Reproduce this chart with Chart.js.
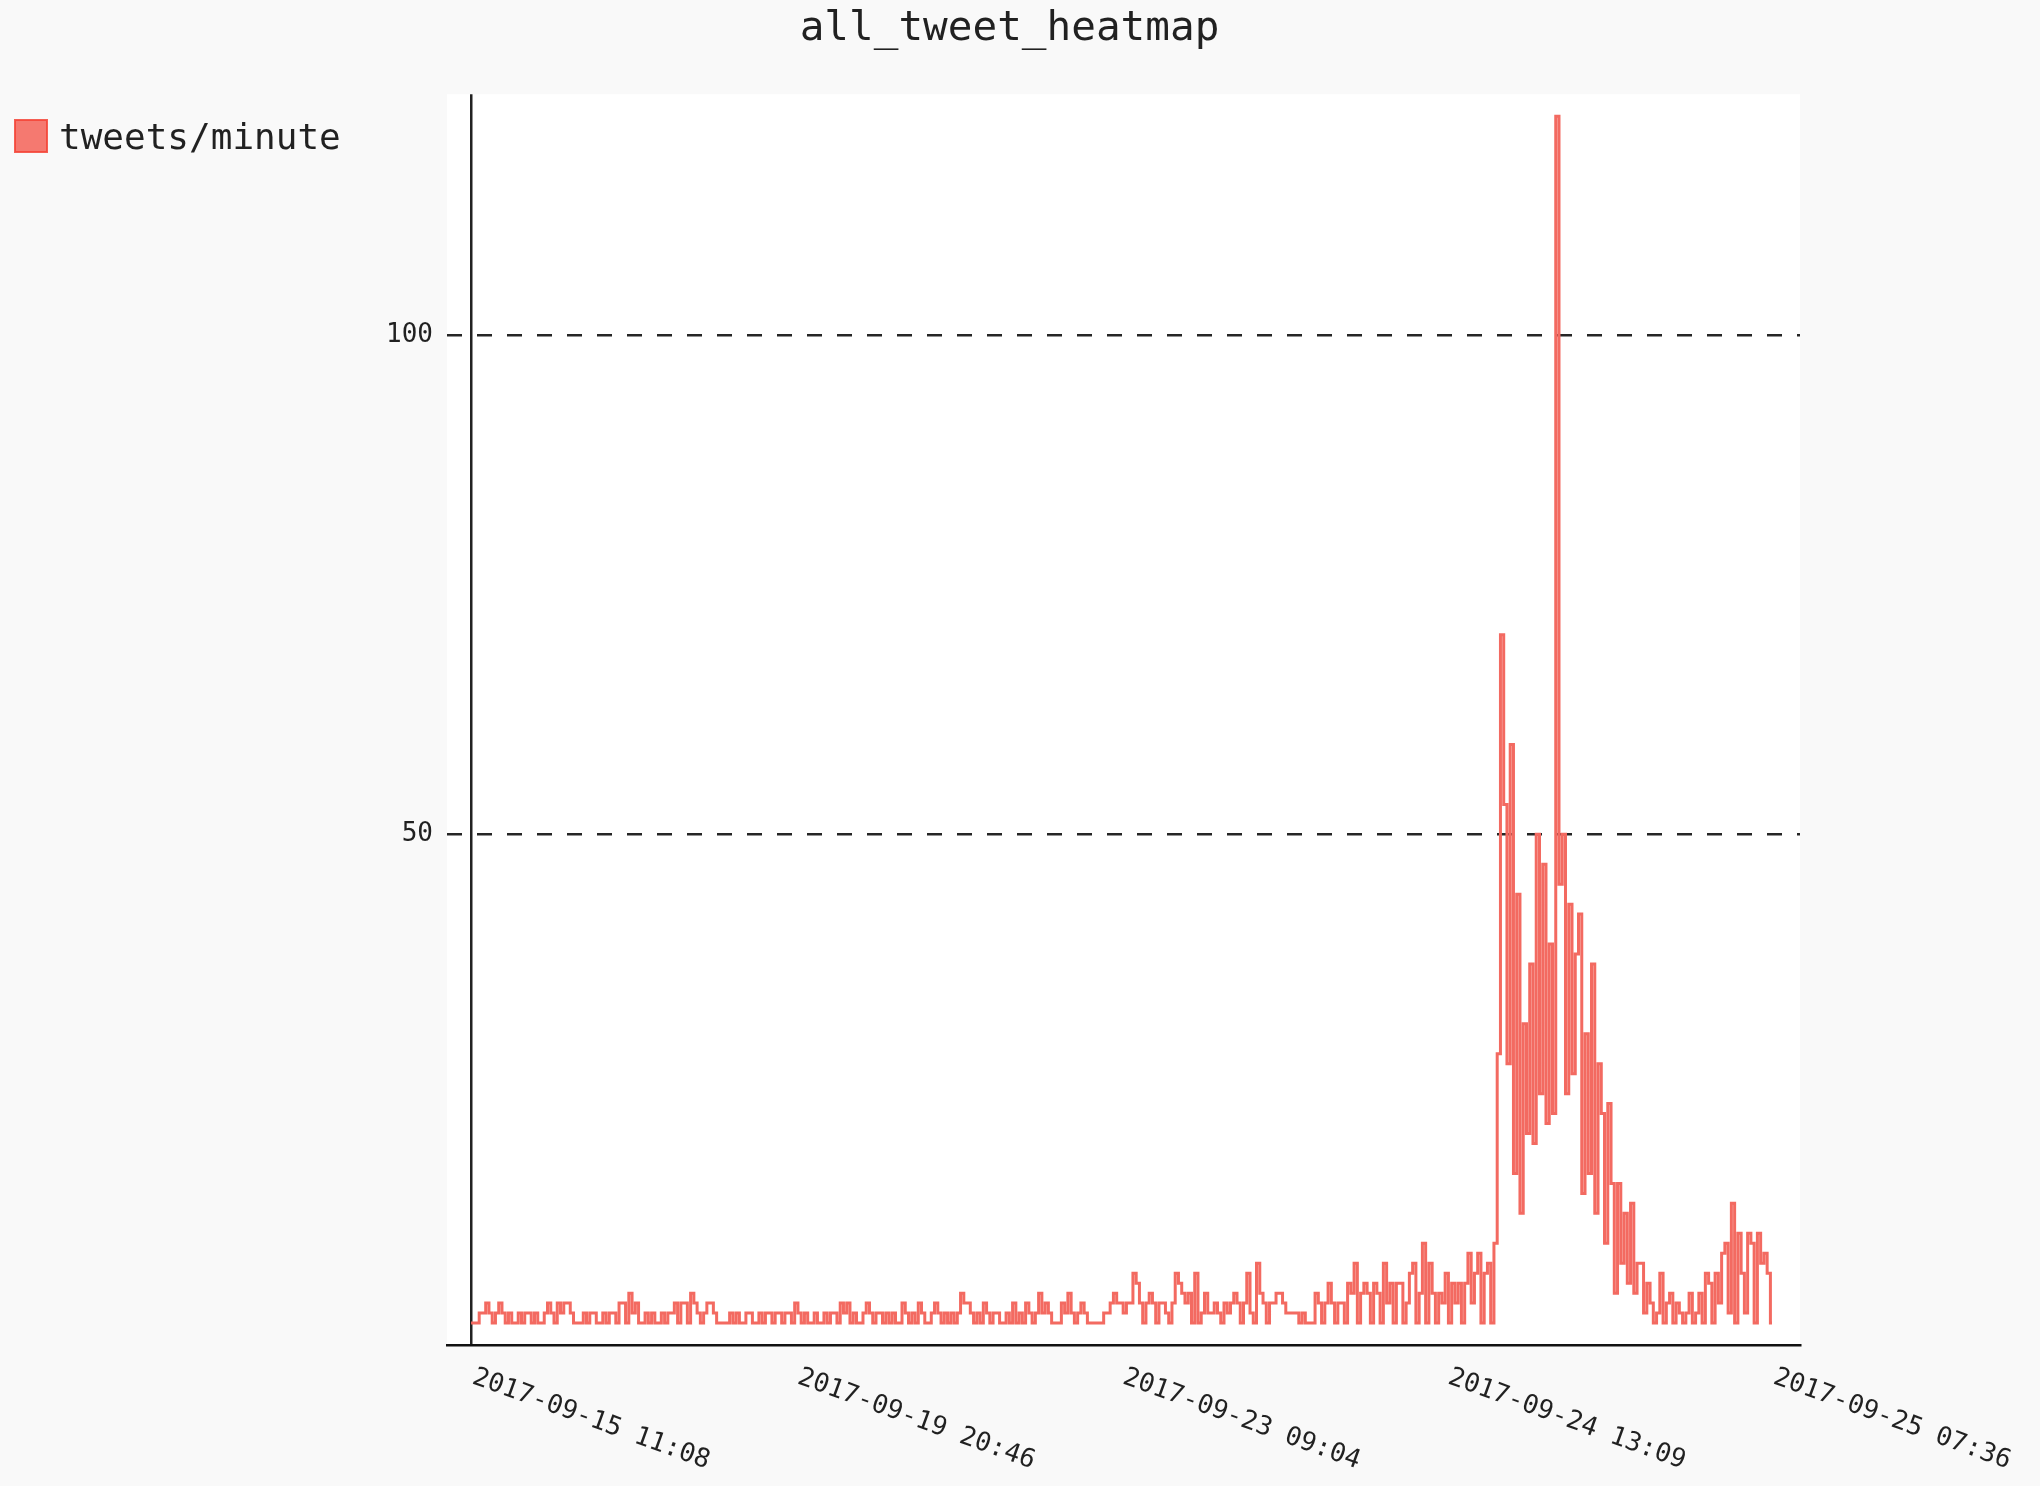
<!DOCTYPE html>
<html>
<head>
<meta charset="utf-8">
<title>all_tweet_heatmap</title>
<script src="https://cdn.jsdelivr.net/npm/chart.js"></script>
<style>
  body { margin: 0; background: #f9f9f9; }
  canvas { display: block; }
</style>
</head>
<body>
<canvas id="chart-tweets" width="2040" height="1486"></canvas>
<script>
const chartTitle = "all_tweet_heatmap";
const seriesLabel = "tweets/minute";

// x labels shown on the axis and the minute index they sit on
const xTickLabels = [
  "2017-09-15 11:08",
  "2017-09-19 20:46",
  "2017-09-23 09:04",
  "2017-09-24 13:09",
  "2017-09-25 07:36",
];
const xTickIndex = [0, 100, 200, 300, 400];
const yTicks = [50, 100];

// tweets per minute in chunks
const earlyTweets = [
  1, 1, 1, 2, 2, 3, 2, 1, 2, 3,
  2, 1, 2, 1, 1, 2, 1, 2, 2, 1,
  2, 1, 1, 2, 3, 2, 1, 3, 2, 3,
  3, 2, 1, 1, 1, 2, 1, 2, 2, 1,
  1, 2, 1, 2, 2, 1, 3, 3, 1, 4,
  2, 3, 1, 1, 2, 1, 2, 1, 1, 2,
  1, 2, 2, 3, 1, 3, 3, 1, 4, 3,
  2, 1, 2, 3, 3, 2, 1, 1, 1, 1,
  2, 1, 2, 1, 1, 2, 2, 1, 1, 2,
  1, 2, 2, 1, 2, 2, 1, 2, 2, 1,
];
const midTweets = [
  3, 2, 1, 2, 1, 1, 2, 1, 1, 2,
  1, 2, 2, 1, 3, 2, 3, 1, 2, 1,
  1, 2, 3, 2, 1, 2, 2, 1, 2, 1,
  2, 1, 1, 3, 2, 1, 2, 1, 3, 2,
  1, 1, 2, 3, 2, 1, 2, 1, 2, 1,
  2, 4, 3, 3, 2, 1, 2, 1, 3, 2,
  1, 2, 2, 1, 1, 2, 1, 3, 1, 2,
  1, 3, 2, 1, 2, 4, 2, 3, 2, 1,
  1, 1, 3, 2, 4, 2, 1, 2, 3, 2,
  1, 1, 1, 1, 1, 2, 2, 3, 4, 3,
];
const lateTweets = [
  3, 2, 3, 3, 6, 5, 3, 1, 3, 4,
  3, 1, 3, 3, 2, 1, 3, 6, 5, 4,
  3, 4, 1, 6, 1, 2, 4, 2, 2, 3,
  2, 1, 3, 2, 3, 4, 3, 1, 3, 6,
  2, 1, 7, 4, 3, 1, 3, 3, 4, 4,
  3, 2, 2, 2, 2, 1, 2, 1, 1, 1,
  4, 3, 1, 3, 5, 3, 1, 3, 3, 1,
  5, 4, 7, 1, 4, 5, 4, 1, 5, 4,
  1, 7, 3, 5, 1, 5, 5, 1, 3, 6,
  7, 1, 4, 9, 1, 7, 4, 1, 4, 3,
  6, 1, 5, 3, 5, 1, 5, 8, 3, 6,
  8, 1, 6, 7, 1, 9,
];
const burstTweets = [
  28, 70, 53, 27, 59, 16, 44, 12, 31, 20,
  37, 19, 50, 24, 47, 21, 39, 22, 122, 45,
  50, 24, 43, 26, 38, 42, 14, 30, 16, 37,
  12, 27, 22, 9, 23, 15, 4, 15, 7, 12,
  5, 13, 4, 7, 7,
];
const tailTweets = [
  2, 5, 3, 1, 2, 6, 1, 3, 4,
  1, 3, 2, 1, 2, 4, 1, 2, 4, 1,
  6, 5, 1, 6, 3, 8, 9, 2, 13, 1,
  10, 6, 2, 10, 9, 1, 10, 7, 8, 6,
  1,
];

const tweetsPerMinute = [
  ...earlyTweets,
  ...midTweets,
  ...lateTweets,
  ...burstTweets,
  ...tailTweets,
];

const monoFont = "'DejaVu Sans Mono', monospace";
const lineColor = "rgb(243, 106, 97)";
const textColor = "rgba(0, 0, 0, 0.87)";

const plotBackground = {
  id: "plotBackground",
  beforeDraw(chart) {
    const { ctx, chartArea } = chart;
    ctx.save();
    ctx.fillStyle = "#ffffff";
    ctx.fillRect(
      chartArea.left,
      chartArea.top,
      chartArea.right - chartArea.left,
      chartArea.bottom - chartArea.top
    );
    ctx.restore();
  },
};

// pygal style labels: start at the tick and slope down to the right
const slantedLabels = {
  id: "slantedLabels",
  afterDraw(chart) {
    const { ctx, chartArea } = chart;
    const xScale = chart.scales.x;
    ctx.save();
    ctx.font = "26px " + monoFont;
    ctx.fillStyle = textColor;
    ctx.textAlign = "left";
    ctx.textBaseline = "alphabetic";
    xTickLabels.forEach((label, i) => {
      const x = xScale.getPixelForValue(xTickIndex[i]);
      ctx.save();
      ctx.translate(x, chartArea.bottom + 38);
      ctx.rotate((20 * Math.PI) / 180);
      ctx.fillText(label, 0, 0);
      ctx.restore();
    });
    ctx.restore();
  },
};

const sideLegend = {
  id: "sideLegend",
  afterDraw(chart) {
    const { ctx } = chart;
    ctx.save();
    ctx.fillStyle = "rgba(244, 67, 54, 0.7)";
    ctx.strokeStyle = "rgba(244, 67, 54, 0.85)";
    ctx.lineWidth = 2;
    ctx.fillRect(15, 120, 32, 32);
    ctx.strokeRect(15, 120, 32, 32);
    ctx.font = "36px " + monoFont;
    ctx.fillStyle = textColor;
    ctx.textBaseline = "alphabetic";
    ctx.fillText(chart.data.datasets[0].label, 59, 149);
    ctx.restore();
  },
};

new Chart(document.getElementById("chart-tweets"), {
  type: "line",
  data: {
    datasets: [
      {
        label: seriesLabel,
        data: tweetsPerMinute.map((value, index) => ({ x: index, y: value })),
        borderColor: lineColor,
        borderWidth: 3,
        pointRadius: 0,
        stepped: "middle",
        fill: false,
      },
    ],
  },
  options: {
    responsive: false,
    animation: false,
    devicePixelRatio: 1,
    layout: {
      padding: { left: 219, right: 240, top: 0, bottom: 0 },
    },
    plugins: {
      legend: { display: false },
      tooltip: { enabled: false },
      title: {
        display: true,
        text: chartTitle,
        color: textColor,
        font: { family: monoFont, size: 41, weight: "normal" },
        padding: { top: 5, bottom: 40 },
      },
    },
    scales: {
      x: {
        type: "linear",
        min: -7.4,
        max: 408.6,
        afterBuildTicks: (scale) => {
          scale.ticks = xTickIndex.map((value) => ({ value: value }));
        },
        afterFit: (scale) => {
          scale.height = 141;
        },
        ticks: { display: false },
        grid: {
          drawTicks: false,
          lineWidth: 2.5,
          color: (context) =>
            context.tick && context.tick.value === 0 ? "#222" : "rgba(0,0,0,0)",
        },
        border: { display: true, color: "#111", width: 2.5 },
      },
      y: {
        min: -1.2,
        max: 124.2,
        afterBuildTicks: (scale) => {
          scale.ticks = yTicks.map((value) => ({ value: value }));
        },
        afterFit: (scale) => {
          scale.width = 228;
        },
        ticks: {
          padding: 14,
          color: textColor,
          font: { family: monoFont, size: 26 },
        },
        grid: {
          drawTicks: false,
          color: "rgba(0, 0, 0, 0.85)",
          lineWidth: 2.5,
        },
        border: { display: false, dash: [15, 15] },
      },
    },
  },
  plugins: [plotBackground, slantedLabels, sideLegend],
});
</script>
</body>
</html>
